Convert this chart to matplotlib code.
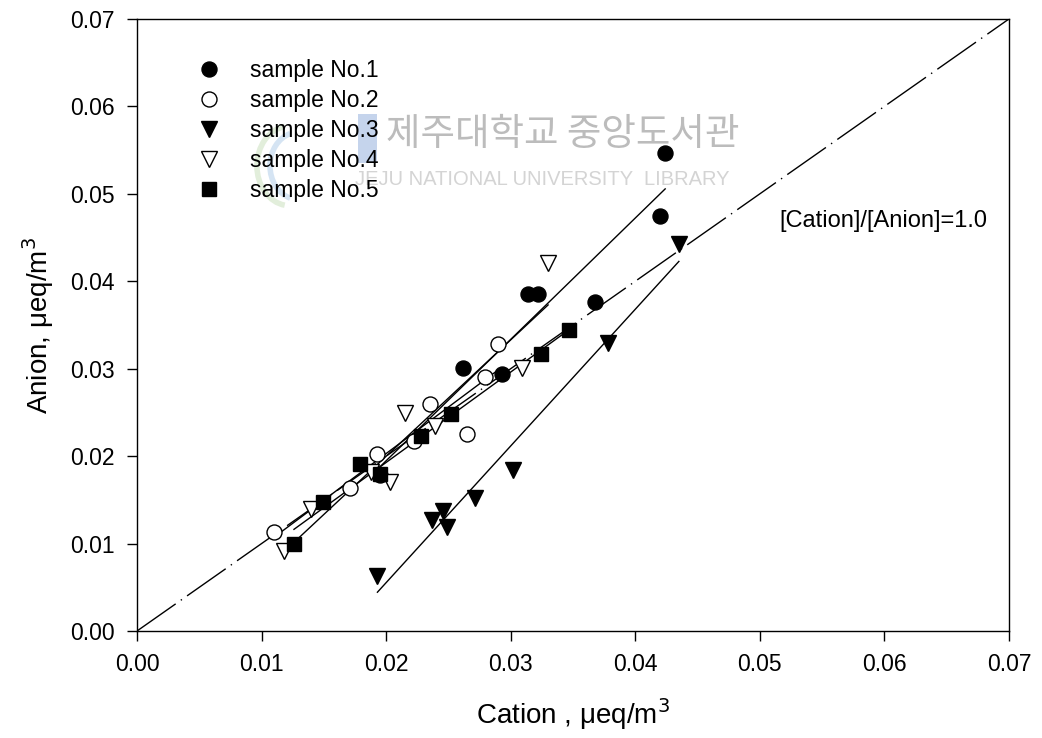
import numpy as np
import matplotlib.pyplot as plt
from matplotlib.lines import Line2D
from matplotlib.patches import Rectangle, Arc

# values (cation, anion in ueq/m3)
s1_cation = [0.0195, 0.0262, 0.0293, 0.0314, 0.0322, 0.0368, 0.0420, 0.0424]
s1_anion = [0.0178, 0.0301, 0.0294, 0.0386, 0.0386, 0.0376, 0.0475, 0.0547]
s2_cation = [0.0110, 0.0171, 0.0193, 0.0222, 0.0235, 0.0265, 0.0279, 0.0290]
s2_anion = [0.0113, 0.0163, 0.0203, 0.0217, 0.0260, 0.0225, 0.0290, 0.0328]
s3_cation = [0.0193, 0.0237, 0.0246, 0.0249, 0.0271, 0.0302, 0.0378, 0.0435]
s3_anion = [0.0063, 0.0127, 0.0137, 0.0119, 0.0152, 0.0184, 0.0329, 0.0443]
s4_cation = [0.0118, 0.0140, 0.0188, 0.0203, 0.0215, 0.0239, 0.0309, 0.0330]
s4_anion = [0.0091, 0.0139, 0.0182, 0.0170, 0.0249, 0.0235, 0.0301, 0.0421]
s5_cation = [0.0126, 0.0149, 0.0179, 0.0195, 0.0228, 0.0252, 0.0324, 0.0347]
s5_anion = [0.0099, 0.0148, 0.0191, 0.0179, 0.0223, 0.0248, 0.0317, 0.0344]

labels = ['sample No.1', 'sample No.2', 'sample No.3', 'sample No.4', 'sample No.5']
ticks = [0.00, 0.01, 0.02, 0.03, 0.04, 0.05, 0.06, 0.07]


def main():
    plt.rcParams['font.family'] = ['Liberation Sans', 'DejaVu Sans']
    fig = plt.figure(figsize=(10.42, 7.38), dpi=100)
    ax = fig.add_axes([0.1315, 0.145, 0.8368, 0.8293])

    # faint library watermark (logo + name)
    tr = ax.transAxes
    ax.add_patch(Arc((0.175, 0.76), 0.075, 0.13, theta1=95, theta2=265,
                     transform=tr, color='#cfe3c4', alpha=0.6, lw=4, zorder=0))
    ax.add_patch(Arc((0.185, 0.76), 0.065, 0.11, theta1=100, theta2=260,
                     transform=tr, color='#b9d3ec', alpha=0.6, lw=4, zorder=0))
    ax.add_patch(Rectangle((0.253, 0.765), 0.022, 0.08, transform=tr,
                           color='#9fb8e0', alpha=0.6, lw=0, zorder=0))
    ax.text(0.285, 0.812, '제주대학교 중앙도서관', transform=tr,
            fontsize=27, color='#bcbcbc', va='center', ha='left',
            family=['Noto Sans CJK KR'], zorder=0)
    ax.text(0.25, 0.737, 'JEJU NATIONAL UNIVERSITY  LIBRARY',
            transform=tr, fontsize=14.5, color='#d4d4d4',
            va='center', ha='left', zorder=0)

    lim = [ticks[0], ticks[-1]]
    ax.plot(lim, lim, color='black', lw=1.0, dashes=(34, 4.5, 1, 4.5), zorder=1)

    series = [
        (s1_cation, s1_anion, 'o', 'black', 10.8),
        (s2_cation, s2_anion, 'o', 'white', 10.8),
        (s3_cation, s3_anion, 'v', 'black', 11),
        (s4_cation, s4_anion, 'v', 'white', 11),
        (s5_cation, s5_anion, 's', 'black', 9.6),
    ]

    handles = []
    for (cx, cy, m, fc, ms), lab in zip(series, labels):
        cx = np.array(cx)
        cy = np.array(cy)
        k, b = np.polyfit(cx, cy, 1)
        xx = np.array([cx.min(), cx.max()])
        ax.plot(xx, k * xx + b, color='black', lw=1.0, zorder=2)
        ax.plot(cx, cy, ls='none', marker=m, ms=ms, mfc=fc, mec='black',
                mew=1.0, zorder=3)
        handles.append(Line2D([], [], ls='none', marker=m, ms=ms, mfc=fc,
                              mec='black', mew=1.0, label=lab))

    ax.legend(handles=handles, loc='upper left',
              bbox_to_anchor=(0.069, 0.935), frameon=False, fontsize=16.5,
              borderpad=0, borderaxespad=0, handlelength=1.0,
              handletextpad=1.3, labelspacing=0.31, numpoints=1)

    ax.text(0.0516, 0.0469, '[Cation]/[Anion]=1.0', fontsize=17,
            va='center', ha='left')

    ax.set_xlim(lim)
    ax.set_ylim(lim)
    ax.set_xticks(ticks)
    ax.set_yticks(ticks)
    ax.set_xticklabels([f'{t:.2f}' for t in ticks])
    ax.set_yticklabels([f'{t:.2f}' for t in ticks])
    ax.tick_params(direction='out', length=7, width=1, labelsize=16.5,
                   pad=9, top=False, right=False)
    for sp in ax.spines.values():
        sp.set_linewidth(1.0)

    ax.set_xlabel('Cation , $\\mathregular{\\mu}$eq/m$^3$', fontsize=20,
                  labelpad=14)
    ax.set_ylabel('Anion, $\\mathregular{\\mu}$eq/m$^3$', fontsize=20,
                  labelpad=10)

    fig.savefig('out.png', dpi=100)


if __name__ == "__main__":
    main()
